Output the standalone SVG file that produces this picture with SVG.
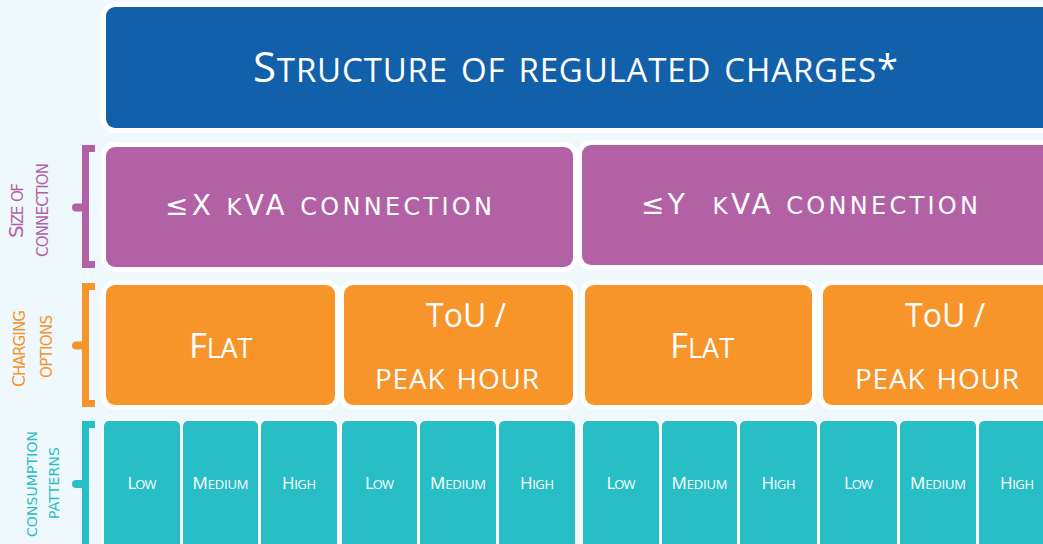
<svg xmlns="http://www.w3.org/2000/svg" width="1043" height="544" viewBox="0 0 1043 544">
<style>
.box{stroke:#FFFFFF;stroke-width:10;paint-order:stroke}
.cell{stroke:#FFFFFF;stroke-width:4;paint-order:stroke;fill:#28BEC6}
.blue{fill:#125FAA}
.purple{fill:#B261A5}
.orange{fill:#F7942A}
.t{font-family:"Open Sans","Noto Sans",sans-serif;fill:#FFFFFF;font-variant:small-caps}
.w{font-family:"DejaVu Sans","Open Sans",sans-serif}
.side{font-family:"DejaVu Sans","Open Sans",sans-serif;font-variant:small-caps;font-size:22px}
.br{fill:none;stroke-width:7;stroke-linejoin:miter}
.knob{stroke-width:8;stroke-linecap:round}
.sm{font-size:19px}
</style>
<rect width="1043" height="544" fill="#EEF8FD"/>

<g id="title">
<rect class="box blue" x="106" y="7" width="960" height="121" rx="9"/>
<text class="t" x="253" y="82" font-size="42" textLength="645" lengthAdjust="spacing">S<tspan font-size="47">tructure of regulated charges</tspan><tspan font-size="38">*</tspan></text>
</g>

<g id="size-x">
<rect class="box purple" x="106" y="147" width="467" height="120" rx="9"/>
<text class="t w" x="165" y="215" font-size="28" textLength="327" lengthAdjust="spacing">≤X <tspan font-size="33">k</tspan>VA <tspan font-size="34">connection</tspan></text>
</g>
<g id="size-y">
<rect class="box purple" x="582" y="145" width="480" height="120" rx="9"/>
<text class="t w" x="641" y="214" font-size="28" textLength="337" lengthAdjust="spacing" xml:space="preserve">≤Y  <tspan font-size="33">k</tspan>VA <tspan font-size="34">connection</tspan></text>
</g>

<g id="flat-x">
<rect class="box orange" x="106" y="285" width="229" height="120" rx="9"/>
<text class="t" x="189" y="358" font-size="35" textLength="63" lengthAdjust="spacing">F<tspan font-size="39">lat</tspan></text>
</g>
<g id="tou-x">
<rect class="box orange" x="344" y="285" width="229" height="120" rx="9"/>
<text class="t" x="426" y="327" font-size="32" xml:space="preserve" style="font-variant:normal">ToU /</text>
<text class="t" x="375" y="389" font-size="40" textLength="164" lengthAdjust="spacing">peak hour</text>
</g>
<g id="flat-y">
<rect class="box orange" x="585" y="285" width="227" height="120" rx="9"/>
<text class="t" x="670" y="358" font-size="35" textLength="64" lengthAdjust="spacing">F<tspan font-size="39">lat</tspan></text>
</g>
<g id="tou-y">
<rect class="box orange" x="823" y="285" width="240" height="120" rx="9"/>
<text class="t" x="905" y="327" font-size="32" xml:space="preserve" style="font-variant:normal">ToU /</text>
<text class="t" x="855" y="389" font-size="40" textLength="164" lengthAdjust="spacing">peak hour</text>
</g>

<g id="consumption">
<g id="c1"><rect class="cell" x="104" y="421" width="76" height="140" rx="5"/><text class="t" x="142" y="489" font-size="17" text-anchor="middle" textLength="29" lengthAdjust="spacing">L<tspan class="sm">ow</tspan></text></g>
<g id="c2"><rect class="cell" x="183" y="421" width="75" height="140" rx="5"/><text class="t" x="220.5" y="489" font-size="17" text-anchor="middle" textLength="56" lengthAdjust="spacing">M<tspan class="sm">edium</tspan></text></g>
<g id="c3"><rect class="cell" x="261" y="421" width="76" height="140" rx="5"/><text class="t" x="299" y="489" font-size="17" text-anchor="middle" textLength="34" lengthAdjust="spacing">H<tspan class="sm">igh</tspan></text></g>
<g id="c4"><rect class="cell" x="342" y="421" width="75" height="140" rx="5"/><text class="t" x="379.5" y="489" font-size="17" text-anchor="middle" textLength="29" lengthAdjust="spacing">L<tspan class="sm">ow</tspan></text></g>
<g id="c5"><rect class="cell" x="420" y="421" width="76" height="140" rx="5"/><text class="t" x="458" y="489" font-size="17" text-anchor="middle" textLength="56" lengthAdjust="spacing">M<tspan class="sm">edium</tspan></text></g>
<g id="c6"><rect class="cell" x="499" y="421" width="76" height="140" rx="5"/><text class="t" x="537" y="489" font-size="17" text-anchor="middle" textLength="34" lengthAdjust="spacing">H<tspan class="sm">igh</tspan></text></g>
<g id="c7"><rect class="cell" x="583" y="421" width="76" height="140" rx="5"/><text class="t" x="621" y="489" font-size="17" text-anchor="middle" textLength="29" lengthAdjust="spacing">L<tspan class="sm">ow</tspan></text></g>
<g id="c8"><rect class="cell" x="662" y="421" width="75" height="140" rx="5"/><text class="t" x="699.5" y="489" font-size="17" text-anchor="middle" textLength="56" lengthAdjust="spacing">M<tspan class="sm">edium</tspan></text></g>
<g id="c9"><rect class="cell" x="740" y="421" width="77" height="140" rx="5"/><text class="t" x="778.5" y="489" font-size="17" text-anchor="middle" textLength="34" lengthAdjust="spacing">H<tspan class="sm">igh</tspan></text></g>
<g id="c10"><rect class="cell" x="820" y="421" width="77" height="140" rx="5"/><text class="t" x="858.5" y="489" font-size="17" text-anchor="middle" textLength="29" lengthAdjust="spacing">L<tspan class="sm">ow</tspan></text></g>
<g id="c11"><rect class="cell" x="900" y="421" width="76" height="140" rx="5"/><text class="t" x="938" y="489" font-size="17" text-anchor="middle" textLength="56" lengthAdjust="spacing">M<tspan class="sm">edium</tspan></text></g>
<g id="c12"><rect class="cell" x="979" y="421" width="78" height="140" rx="5"/><text class="t" x="1017" y="489" font-size="17" text-anchor="middle" textLength="34" lengthAdjust="spacing">H<tspan class="sm">igh</tspan></text></g>
</g>

<g id="brackets">
<g id="bracket-size" stroke="#B261A5">
<path class="br" d="M95,148.5 H85.5 V264.5 H95"/>
<line class="knob" x1="76" y1="207.5" x2="85" y2="207.5"/>
</g>
<g id="bracket-charging" stroke="#F7942A">
<path class="br" d="M95,286.5 H85.5 V403.5 H95"/>
<line class="knob" x1="76" y1="345.5" x2="85" y2="345.5"/>
</g>
<g id="bracket-consumption" stroke="#28BEC6">
<path class="br" d="M95,424.5 H85.5 V560"/>
<line class="knob" x1="76" y1="484" x2="85" y2="484"/>
</g>
</g>

<g id="side-labels" class="side">
<text fill="#B261A5" transform="translate(23,210.5) rotate(-90)" text-anchor="middle" textLength="55" lengthAdjust="spacing"><tspan font-size="20">S</tspan>ize of</text>
<text fill="#B261A5" transform="translate(48,210) rotate(-90)" text-anchor="middle" textLength="94" lengthAdjust="spacing">connection</text>
<text fill="#F7942A" transform="translate(25,348.5) rotate(-90)" text-anchor="middle" textLength="77" lengthAdjust="spacing"><tspan font-size="17">C</tspan>harging</text>
<text fill="#F7942A" transform="translate(52,346.5) rotate(-90)" text-anchor="middle" textLength="63" lengthAdjust="spacing">options</text>
<text fill="#28BEC6" transform="translate(37,484) rotate(-90)" text-anchor="middle" textLength="106" lengthAdjust="spacing" font-size="20">consumption</text>
<text fill="#28BEC6" transform="translate(59,483) rotate(-90)" text-anchor="middle" textLength="72" lengthAdjust="spacing" font-size="20">patterns</text>
</g>
</svg>
